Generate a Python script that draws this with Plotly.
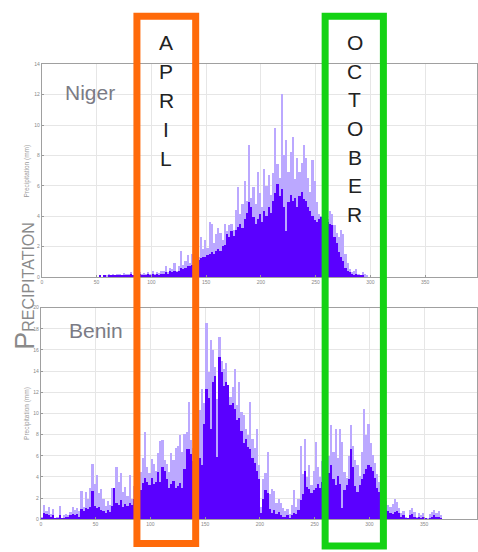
import plotly.graph_objects as go

W, H = 478, 552

# ---------------- data (2-day bins, day-of-year) ----------------
bin_days = list(range(1, 366, 2))  # bin centres: 1,3,...,365 (183 bins)

niger_max = ([0] * 25 +
    [0, 0.1, 0, 0.1, 0.05, 0.15, 0.1, 0.2, 0.1, 0.15, 0.2, 0.1, 0.25, 0.15, 0.2,
     0.3, 0.1, 0.2, 0.15, 0.3, 0.2, 0.25, 0.15, 0.3, 0.2, 0.35, 0.2, 0.3, 0.25, 0.4] +
    [0.4, 0.7, 0.3, 0.6, 0.5, 0.9, 0.4, 0.7, 1.7, 0.8, 1.0, 1.4, 0.9, 1.5, 1.2,
     1.6, 1.3, 2.6, 1.8, 2.4, 1.9, 3.6, 3.5, 2.2, 2.8, 3.2, 2.9, 2.4, 3.5] +
    [3.0, 3.4, 3.5, 3.1, 4.4, 5.9, 4.1, 4.8, 6.3, 5.0, 8.7, 5.2, 5.9, 4.8, 6.9,
     5.5, 4.6, 7.1, 6.0, 6.7, 5.4, 6.8, 9.8, 7.4, 6.5, 12.0, 8.0, 9.0, 6.9, 8.2,
     9.2, 6.4, 7.8, 6.9, 7.5, 8.7, 7.8, 6.5, 5.6, 7.7, 6.3, 4.9, 4.1, 4.0, 4.8,
     4.4, 3.8, 4.3, 4.1, 3.4, 2.9, 2.6, 3.1, 2.8, 1.5, 0.9, 0.5, 0.3, 0.4, 0.5,
     0.2, 0.1, 0.3, 0.2, 0.1] +
    [0] * 34)

niger_mean = ([0] * 25 +
    [0, 0.05, 0, 0.05, 0, 0.08, 0.05, 0.1, 0.05, 0.08, 0.1, 0.05, 0.12, 0.08, 0.1,
     0.15, 0.05, 0.1, 0.08, 0.15, 0.1, 0.12, 0.08, 0.15, 0.1, 0.18, 0.1, 0.15, 0.12, 0.2] +
    [0.2, 0.3, 0.2, 0.4, 0.3, 0.4, 0.3, 0.4, 0.6, 0.5, 0.6, 0.7, 0.7, 0.8, 0.9,
     1.0, 1.1, 1.2, 1.3, 1.3, 1.4, 1.5, 1.6, 1.5, 1.7, 1.8, 1.7, 2.0, 2.1] +
    [2.8, 2.6, 3.0, 2.7, 3.1, 3.3, 3.5, 3.2, 3.8, 4.2, 4.9, 4.6, 3.9, 3.5, 3.8,
     4.1, 3.6, 4.3, 4.0, 4.6, 4.2, 5.0, 5.5, 6.1, 5.3, 5.8, 4.6, 3.0, 4.9, 5.4,
     5.0, 5.2, 4.6, 5.3, 5.6, 5.1, 5.0, 4.6, 4.3, 4.0, 3.7, 3.6, 3.8, 3.9, 3.8,
     3.7, 3.6, 3.5, 3.4, 2.6, 2.2, 1.6, 1.3, 1.0, 0.6, 0.4, 0.3, 0.2, 0.1, 0.2,
     0.1, 0.05, 0.05, 0, 0] +
    [0] * 34)

benin_max = [
    0.3, 1.4, 0.8, 1.2, 0.5, 1.0, 0.2, 0.3, 1.3, 0.2, 0.4, 0.5, 0.4, 0.7, 1.2,
    0.9, 1.1, 0.8, 2.7, 1.2, 2.6, 2.0, 3.0, 5.3, 3.4, 4.2, 2.5, 2.9, 2.0, 1.3,
    1.8, 1.4, 3.0, 2.4, 5.0, 3.6, 4.4, 2.6, 3.1, 2.2, 4.2, 2.0, 3.2, 3.6, 4.0,
    4.5, 5.8, 8.3, 5.0, 4.4, 5.7, 5.3, 4.6, 6.3, 7.4, 7.5, 5.6, 5.3, 4.5, 6.3,
    5.6, 6.8, 7.0, 8.0, 6.4, 8.1, 8.3, 11.1, 7.5, 6.8, 7.4, 9.0, 10.4, 12.3, 11.0,
    18.6, 14.0, 17.0, 16.0, 14.4, 11.4, 17.3, 15.0, 14.2, 14.8, 12.7, 11.6, 12.5, 14.2, 10.8,
    13.0, 10.2, 9.9, 8.6, 8.0, 11.1, 7.6, 6.8, 8.6, 5.2, 1.2, 3.8, 4.4, 6.4, 2.4,
    2.9, 2.7, 1.6, 2.0, 1.6, 1.1, 0.8, 1.0, 0.5, 1.4, 2.8, 1.2, 2.0, 7.0, 4.3,
    7.6, 4.0, 5.2, 3.3, 4.6, 7.3, 5.0, 4.0, 5.5, 6.2, 7.4, 6.0, 8.9, 6.4, 8.6,
    5.8, 8.6, 7.3, 4.5, 3.9, 6.0, 8.9, 7.0, 5.6, 5.2, 4.1, 6.4, 10.5, 8.0, 9.0,
    7.2, 6.1, 5.4, 4.3, 3.6, 2.2, 1.6, 1.8, 1.4, 1.2, 1.5, 2.0, 1.7, 1.1, 0.6,
    0.8, 0.3, 0.2, 0.9, 1.1, 0.7, 0.3, 0.6, 0.4, 0.6, 0.2, 0.1, 0.5, 0.7, 0.9,
    0.6, 0.8, 0.4]

benin_mean = [
    0.2, 0.6, 0.5, 0.4, 0.3, 0.4, 0.1, 0.1, 0.4, 0.1, 0.2, 0.3, 0.3, 0.4, 0.5,
    0.4, 0.5, 0.3, 1.0, 0.8, 1.1, 1.0, 1.2, 2.7, 1.3, 1.1, 1.2, 0.9, 0.8, 0.6,
    0.9, 0.7, 1.3, 3.0, 1.6, 1.4, 1.9, 1.2, 1.5, 1.3, 1.6, 1.4, 2.0, 2.2, 2.5,
    2.8, 3.5, 3.9, 3.6, 3.3, 3.9, 3.4, 3.6, 4.5, 3.6, 5.0, 4.6, 3.8, 3.0, 3.4,
    3.7, 3.0, 3.2, 3.5, 3.0, 4.8, 6.7, 6.7, 6.2, 5.5, 5.0, 4.6, 5.8, 5.2, 9.0,
    12.3, 11.5, 8.6, 13.0, 13.6, 5.9, 15.4, 14.0, 12.6, 13.0, 12.7, 10.8, 11.0, 10.5, 9.4,
    9.6, 8.4, 7.2, 7.6, 6.9, 6.7, 5.8, 5.4, 4.6, 3.8, 0.6, 2.0, 2.8, 2.5, 1.0,
    0.6, 0.9, 0.5, 0.7, 0.4, 0.3, 0.3, 0.4, 0.2, 0.4, 0.6, 0.5, 0.9, 1.9, 2.4,
    4.6, 3.1, 2.9, 2.5, 2.8, 3.0, 3.4, 3.0, 3.6, 4.0, 4.6, 4.4, 5.2, 3.8, 3.3,
    4.1, 3.4, 1.1, 2.8, 3.3, 3.8, 6.7, 5.0, 3.2, 2.6, 3.3, 3.8, 4.3, 4.8, 5.2,
    5.0, 4.6, 3.9, 3.0, 2.6, 1.4, 1.0, 0.9, 0.8, 0.6, 0.5, 0.7, 0.8, 0.6, 0.3,
    0.4, 0.2, 0.1, 0.4, 0.5, 0.3, 0.1, 0.3, 0.2, 0.3, 0.1, 0.05, 0.2, 0.3, 0.4,
    0.3, 0.3, 0.2]

x_ticks = [0, 50, 100, 150, 200, 250, 300, 350, 400]
niger_yticks = [0, 2, 4, 6, 8, 10, 12, 14]
benin_yticks = [0, 2, 4, 6, 8, 10, 12, 14, 16, 18, 20]

# ---------------- styling ----------------
LIGHT = "#BBA8FF"
DARK = "#5A00FF"
FONT = "Liberation Sans, Arial, sans-serif"

def px_x(p):
    return p / W

def px_y(p):
    return 1 - p / H

fig = go.Figure()
fig.add_trace(go.Bar(x=bin_days, y=niger_max, width=2, marker=dict(color=LIGHT, line=dict(width=0)),
                     xaxis="x", yaxis="y", hoverinfo="skip"))
fig.add_trace(go.Bar(x=bin_days, y=niger_mean, width=2, marker=dict(color=DARK, line=dict(width=0)),
                     xaxis="x", yaxis="y", hoverinfo="skip"))
fig.add_trace(go.Bar(x=bin_days, y=benin_max, width=2, marker=dict(color=LIGHT, line=dict(width=0)),
                     xaxis="x2", yaxis="y2", hoverinfo="skip"))
fig.add_trace(go.Bar(x=bin_days, y=benin_mean, width=2, marker=dict(color=DARK, line=dict(width=0)),
                     xaxis="x2", yaxis="y2", hoverinfo="skip"))

axis_common = dict(showgrid=True, gridcolor="#e6e6e6", gridwidth=1, zeroline=False,
                   showline=True, linecolor="#a0a0a0", linewidth=1, mirror=True,
                   ticks="inside", ticklen=2, tickcolor="#999",
                   tickfont=dict(size=5, color="#888", family=FONT))

fig.update_layout(
    width=W, height=H,
    margin=dict(l=0, r=0, t=0, b=0),
    paper_bgcolor="white", plot_bgcolor="white",
    barmode="overlay", bargap=0, showlegend=False,
    xaxis=dict(domain=[px_x(41), 1], range=[0, (W - 41) / 1.1], anchor="y",
               tickvals=x_ticks, **axis_common),
    yaxis=dict(domain=[px_y(277), px_y(62)], range=[0, 14], anchor="x",
               tickvals=niger_yticks, **axis_common),
    xaxis2=dict(domain=[px_x(40), 1], range=[0, (W - 40) / 1.1], anchor="y2",
                tickvals=x_ticks, **axis_common),
    yaxis2=dict(domain=[px_y(522), px_y(308)], range=[0, 20], anchor="x2",
                tickvals=benin_yticks, **axis_common),
)

shapes = [
    dict(type="rect", xref="paper", yref="paper", layer="above",
         x0=px_x(136.5), x1=px_x(195.5), y0=px_y(546.5), y1=px_y(13.3),
         line=dict(color="#FF6A0A", width=7), fillcolor="rgba(0,0,0,0)"),
    dict(type="rect", xref="paper", yref="paper", layer="above",
         x0=px_x(325.5), x1=px_x(384), y0=px_y(549), y1=px_y(13.3),
         line=dict(color="#14D214", width=7), fillcolor="rgba(0,0,0,0)"),
]
fig.update_layout(shapes=shapes)

def note(text, xp, yp, size, color, angle=0):
    return dict(text=text, x=px_x(xp), y=px_y(yp), xref="paper", yref="paper",
                xanchor="center", yanchor="middle", textangle=angle,
                showarrow=False, font=dict(size=size, color=color, family=FONT))

ann = []
ann.append(note("Niger", 89, 90, 21, "#7b7b85"))
ann.append(note("Benin", 95, 331, 21, "#7b7b85"))
for i, ch in enumerate("APRIL"):
    ann.append(note(ch, 166, 40 + 29.2 * i, 21, "#222"))
for i, ch in enumerate("OCTOBER"):
    ann.append(note(ch, 355, 40 + 29 * i, 21, "#222"))
ann.append(note("<span style='font-size:27px'>P</span>RECIPITATION", 24, 286, 16, "#8a8a8a", -90))
for yc in (170, 415):
    ann.append(note("Precipitation (mm)", 26.5, yc, 6.5, "#9a9a9a", -90))
fig.update_layout(annotations=ann)

fig.write_html("out.html")
